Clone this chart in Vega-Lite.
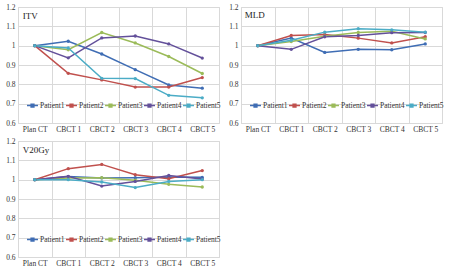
{
  "$schema": "https://vega.github.io/schema/vega-lite/v6.json",
  "padding": {"left": 5, "top": 2, "right": 5, "bottom": 5},
  "background": "white",
  "data": {"values": [
    {"panel":"ITV","label":"ITV"},
    {"panel":"MLD","label":"MLD"},
    {"panel":"V20Gy","label":"V20Gy"},
    {"panel":"ITV","patient":"Patient1","scan":"Plan CT","value":1},
    {"panel":"ITV","patient":"Patient1","scan":"CBCT 1","value":1.023},
    {"panel":"ITV","patient":"Patient1","scan":"CBCT 2","value":0.957},
    {"panel":"ITV","patient":"Patient1","scan":"CBCT 3","value":0.876},
    {"panel":"ITV","patient":"Patient1","scan":"CBCT 4","value":0.797},
    {"panel":"ITV","patient":"Patient1","scan":"CBCT 5","value":0.78},
    {"panel":"ITV","patient":"Patient2","scan":"Plan CT","value":1},
    {"panel":"ITV","patient":"Patient2","scan":"CBCT 1","value":0.857},
    {"panel":"ITV","patient":"Patient2","scan":"CBCT 2","value":0.823},
    {"panel":"ITV","patient":"Patient2","scan":"CBCT 3","value":0.786},
    {"panel":"ITV","patient":"Patient2","scan":"CBCT 4","value":0.786},
    {"panel":"ITV","patient":"Patient2","scan":"CBCT 5","value":0.835},
    {"panel":"ITV","patient":"Patient3","scan":"Plan CT","value":1},
    {"panel":"ITV","patient":"Patient3","scan":"CBCT 1","value":0.979},
    {"panel":"ITV","patient":"Patient3","scan":"CBCT 2","value":1.068},
    {"panel":"ITV","patient":"Patient3","scan":"CBCT 3","value":1.014},
    {"panel":"ITV","patient":"Patient3","scan":"CBCT 4","value":0.944},
    {"panel":"ITV","patient":"Patient3","scan":"CBCT 5","value":0.856},
    {"panel":"ITV","patient":"Patient4","scan":"Plan CT","value":1},
    {"panel":"ITV","patient":"Patient4","scan":"CBCT 1","value":0.937},
    {"panel":"ITV","patient":"Patient4","scan":"CBCT 2","value":1.04},
    {"panel":"ITV","patient":"Patient4","scan":"CBCT 3","value":1.05},
    {"panel":"ITV","patient":"Patient4","scan":"CBCT 4","value":1.009},
    {"panel":"ITV","patient":"Patient4","scan":"CBCT 5","value":0.936},
    {"panel":"ITV","patient":"Patient5","scan":"Plan CT","value":1},
    {"panel":"ITV","patient":"Patient5","scan":"CBCT 1","value":0.988},
    {"panel":"ITV","patient":"Patient5","scan":"CBCT 2","value":0.831},
    {"panel":"ITV","patient":"Patient5","scan":"CBCT 3","value":0.83},
    {"panel":"ITV","patient":"Patient5","scan":"CBCT 4","value":0.743},
    {"panel":"ITV","patient":"Patient5","scan":"CBCT 5","value":0.73},
    {"panel":"MLD","patient":"Patient1","scan":"Plan CT","value":1},
    {"panel":"MLD","patient":"Patient1","scan":"CBCT 1","value":1.039},
    {"panel":"MLD","patient":"Patient1","scan":"CBCT 2","value":0.965},
    {"panel":"MLD","patient":"Patient1","scan":"CBCT 3","value":0.981},
    {"panel":"MLD","patient":"Patient1","scan":"CBCT 4","value":0.979},
    {"panel":"MLD","patient":"Patient1","scan":"CBCT 5","value":1.009},
    {"panel":"MLD","patient":"Patient2","scan":"Plan CT","value":1},
    {"panel":"MLD","patient":"Patient2","scan":"CBCT 1","value":1.053},
    {"panel":"MLD","patient":"Patient2","scan":"CBCT 2","value":1.058},
    {"panel":"MLD","patient":"Patient2","scan":"CBCT 3","value":1.039},
    {"panel":"MLD","patient":"Patient2","scan":"CBCT 4","value":1.014},
    {"panel":"MLD","patient":"Patient2","scan":"CBCT 5","value":1.046},
    {"panel":"MLD","patient":"Patient3","scan":"Plan CT","value":1},
    {"panel":"MLD","patient":"Patient3","scan":"CBCT 1","value":1.021},
    {"panel":"MLD","patient":"Patient3","scan":"CBCT 2","value":1.049},
    {"panel":"MLD","patient":"Patient3","scan":"CBCT 3","value":1.068},
    {"panel":"MLD","patient":"Patient3","scan":"CBCT 4","value":1.075},
    {"panel":"MLD","patient":"Patient3","scan":"CBCT 5","value":1.035},
    {"panel":"MLD","patient":"Patient4","scan":"Plan CT","value":1},
    {"panel":"MLD","patient":"Patient4","scan":"CBCT 1","value":0.981},
    {"panel":"MLD","patient":"Patient4","scan":"CBCT 2","value":1.046},
    {"panel":"MLD","patient":"Patient4","scan":"CBCT 3","value":1.053},
    {"panel":"MLD","patient":"Patient4","scan":"CBCT 4","value":1.067},
    {"panel":"MLD","patient":"Patient4","scan":"CBCT 5","value":1.068},
    {"panel":"MLD","patient":"Patient5","scan":"Plan CT","value":1},
    {"panel":"MLD","patient":"Patient5","scan":"CBCT 1","value":1.028},
    {"panel":"MLD","patient":"Patient5","scan":"CBCT 2","value":1.07},
    {"panel":"MLD","patient":"Patient5","scan":"CBCT 3","value":1.088},
    {"panel":"MLD","patient":"Patient5","scan":"CBCT 4","value":1.082},
    {"panel":"MLD","patient":"Patient5","scan":"CBCT 5","value":1.07},
    {"panel":"V20Gy","patient":"Patient1","scan":"Plan CT","value":1},
    {"panel":"V20Gy","patient":"Patient1","scan":"CBCT 1","value":1.016},
    {"panel":"V20Gy","patient":"Patient1","scan":"CBCT 2","value":1.009},
    {"panel":"V20Gy","patient":"Patient1","scan":"CBCT 3","value":1.01},
    {"panel":"V20Gy","patient":"Patient1","scan":"CBCT 4","value":1.014},
    {"panel":"V20Gy","patient":"Patient1","scan":"CBCT 5","value":1.012},
    {"panel":"V20Gy","patient":"Patient2","scan":"Plan CT","value":1},
    {"panel":"V20Gy","patient":"Patient2","scan":"CBCT 1","value":1.057},
    {"panel":"V20Gy","patient":"Patient2","scan":"CBCT 2","value":1.079},
    {"panel":"V20Gy","patient":"Patient2","scan":"CBCT 3","value":1.026},
    {"panel":"V20Gy","patient":"Patient2","scan":"CBCT 4","value":1.005},
    {"panel":"V20Gy","patient":"Patient2","scan":"CBCT 5","value":1.047},
    {"panel":"V20Gy","patient":"Patient3","scan":"Plan CT","value":1},
    {"panel":"V20Gy","patient":"Patient3","scan":"CBCT 1","value":1.009},
    {"panel":"V20Gy","patient":"Patient3","scan":"CBCT 2","value":1.01},
    {"panel":"V20Gy","patient":"Patient3","scan":"CBCT 3","value":0.997},
    {"panel":"V20Gy","patient":"Patient3","scan":"CBCT 4","value":0.976},
    {"panel":"V20Gy","patient":"Patient3","scan":"CBCT 5","value":0.962},
    {"panel":"V20Gy","patient":"Patient4","scan":"Plan CT","value":1},
    {"panel":"V20Gy","patient":"Patient4","scan":"CBCT 1","value":1.017},
    {"panel":"V20Gy","patient":"Patient4","scan":"CBCT 2","value":0.967},
    {"panel":"V20Gy","patient":"Patient4","scan":"CBCT 3","value":0.991},
    {"panel":"V20Gy","patient":"Patient4","scan":"CBCT 4","value":1.022},
    {"panel":"V20Gy","patient":"Patient4","scan":"CBCT 5","value":1.003},
    {"panel":"V20Gy","patient":"Patient5","scan":"Plan CT","value":1},
    {"panel":"V20Gy","patient":"Patient5","scan":"CBCT 1","value":1.0},
    {"panel":"V20Gy","patient":"Patient5","scan":"CBCT 2","value":0.988},
    {"panel":"V20Gy","patient":"Patient5","scan":"CBCT 3","value":0.959},
    {"panel":"V20Gy","patient":"Patient5","scan":"CBCT 4","value":0.991},
    {"panel":"V20Gy","patient":"Patient5","scan":"CBCT 5","value":1.0}
  ]},
  "columns": 2,
  "spacing": {"column": 22, "row": 18},
  "bounds": "flush",
  "resolve": {"legend": {"color": "independent"}, "scale": {"color": "independent"}},
  "concat": [
    {
      "width": 201, "height": 116,
      "layer": [
        {
          "transform": [{"filter": "datum.panel == 'ITV' && datum.patient"}],
          "mark": {"type": "line", "strokeWidth": 1.5, "point": {"filled": true, "size": 11}},
          "encoding": {
            "x": {"field": "scan", "type": "nominal", "sort": ["Plan CT","CBCT 1","CBCT 2","CBCT 3","CBCT 4","CBCT 5"], "scale": {"type": "band", "paddingInner": 0, "paddingOuter": 0}, "title": null},
            "y": {"field": "value", "type": "quantitative", "scale": {"domain": [0.6, 1.2], "nice": false, "zero": false}, "title": null, "axis": {"values": [0.6, 0.7, 0.8, 0.9, 1.0, 1.1, 1.2]}},
            "color": {"field": "patient", "type": "nominal", "scale": {"domain": ["Patient1","Patient2","Patient3","Patient4","Patient5"], "range": ["#3f6db4","#c0504d","#9bbb59","#63509a","#4bacc6"]}}
          }
        },
        {
          "transform": [{"filter": "datum.panel == 'ITV' && datum.label"}],
          "mark": {"type": "text", "align": "left", "baseline": "top", "dx": -12, "dy": 5, "fontSize": 9, "fontWeight": "normal", "color": "#222"},
          "encoding": {
            "x": {"datum": "Plan CT", "type": "nominal", "sort": ["Plan CT","CBCT 1","CBCT 2","CBCT 3","CBCT 4","CBCT 5"], "scale": {"type": "band", "paddingInner": 0, "paddingOuter": 0}, "title": null},
            "y": {"datum": 1.2, "type": "quantitative", "scale": {"domain": [0.6, 1.2], "nice": false, "zero": false}, "title": null, "axis": {"values": [0.6, 0.7, 0.8, 0.9, 1.0, 1.1, 1.2]}},
            "text": {"field": "label"}
          }
        }
      ]
    },
    {
      "width": 201, "height": 116,
      "layer": [
        {
          "transform": [{"filter": "datum.panel == 'MLD' && datum.patient"}],
          "mark": {"type": "line", "strokeWidth": 1.5, "point": {"filled": true, "size": 11}},
          "encoding": {
            "x": {"field": "scan", "type": "nominal", "sort": ["Plan CT","CBCT 1","CBCT 2","CBCT 3","CBCT 4","CBCT 5"], "scale": {"type": "band", "paddingInner": 0, "paddingOuter": 0}, "title": null},
            "y": {"field": "value", "type": "quantitative", "scale": {"domain": [0.6, 1.2], "nice": false, "zero": false}, "title": null, "axis": {"values": [0.6, 0.7, 0.8, 0.9, 1.0, 1.1, 1.2]}},
            "color": {"field": "patient", "type": "nominal", "scale": {"domain": ["Patient1","Patient2","Patient3","Patient4","Patient5"], "range": ["#3f6db4","#c0504d","#9bbb59","#63509a","#4bacc6"]}}
          }
        },
        {
          "transform": [{"filter": "datum.panel == 'MLD' && datum.label"}],
          "mark": {"type": "text", "align": "left", "baseline": "top", "dx": -13, "dy": 4, "fontSize": 9, "fontWeight": "normal", "color": "#222"},
          "encoding": {
            "x": {"datum": "Plan CT", "type": "nominal", "sort": ["Plan CT","CBCT 1","CBCT 2","CBCT 3","CBCT 4","CBCT 5"], "scale": {"type": "band", "paddingInner": 0, "paddingOuter": 0}, "title": null},
            "y": {"datum": 1.2, "type": "quantitative", "scale": {"domain": [0.6, 1.2], "nice": false, "zero": false}, "title": null, "axis": {"values": [0.6, 0.7, 0.8, 0.9, 1.0, 1.1, 1.2]}},
            "text": {"field": "label"}
          }
        }
      ]
    },
    {
      "width": 201, "height": 116,
      "layer": [
        {
          "transform": [{"filter": "datum.panel == 'V20Gy' && datum.patient"}],
          "mark": {"type": "line", "strokeWidth": 1.5, "point": {"filled": true, "size": 11}},
          "encoding": {
            "x": {"field": "scan", "type": "nominal", "sort": ["Plan CT","CBCT 1","CBCT 2","CBCT 3","CBCT 4","CBCT 5"], "scale": {"type": "band", "paddingInner": 0, "paddingOuter": 0}, "title": null},
            "y": {"field": "value", "type": "quantitative", "scale": {"domain": [0.6, 1.2], "nice": false, "zero": false}, "title": null, "axis": {"values": [0.6, 0.7, 0.8, 0.9, 1.0, 1.1, 1.2]}},
            "color": {"field": "patient", "type": "nominal", "scale": {"domain": ["Patient1","Patient2","Patient3","Patient4","Patient5"], "range": ["#3f6db4","#c0504d","#9bbb59","#63509a","#4bacc6"]}}
          }
        },
        {
          "transform": [{"filter": "datum.panel == 'V20Gy' && datum.label"}],
          "mark": {"type": "text", "align": "left", "baseline": "top", "dx": -12, "dy": 5, "fontSize": 9, "fontWeight": "normal", "color": "#222"},
          "encoding": {
            "x": {"datum": "Plan CT", "type": "nominal", "sort": ["Plan CT","CBCT 1","CBCT 2","CBCT 3","CBCT 4","CBCT 5"], "scale": {"type": "band", "paddingInner": 0, "paddingOuter": 0}, "title": null},
            "y": {"datum": 1.2, "type": "quantitative", "scale": {"domain": [0.6, 1.2], "nice": false, "zero": false}, "title": null, "axis": {"values": [0.6, 0.7, 0.8, 0.9, 1.0, 1.1, 1.2]}},
            "text": {"field": "label"}
          }
        }
      ]
    }
  ],
  "config": {
    "font": "Liberation Serif",
    "view": {"stroke": "#d9d9d9", "strokeWidth": 1},
    "text": {"font": "Liberation Serif", "fontWeight": "normal"},
    "axis": {"labelFont": "Liberation Serif", "labelFontSize": 7.5, "labelColor": "#333", "ticks": false, "domain": false, "gridColor": "#d9d9d9", "gridWidth": 1, "labelOverlap": false},
    "axisX": {"tickBand": "extent", "labelPadding": 2, "labelAngle": 0, "grid": true},
    "axisY": {"format": ".1~f", "labelPadding": 3, "grid": true},
    "legend": {
      "orient": "none", "legendX": 8, "legendY": 92, "direction": "horizontal", "columns": 5,
      "title": null, "labelFont": "Liberation Serif", "labelFontSize": 7.5, "labelColor": "#333",
      "symbolType": "M-1,0L1,0M-0.25,-0.25L0.25,-0.25L0.25,0.25L-0.25,0.25Z",
      "symbolSize": 121, "symbolStrokeWidth": 1.5, "labelOffset": 1, "columnPadding": -6, "padding": 0, "rowPadding": 0
    }
  }
}
